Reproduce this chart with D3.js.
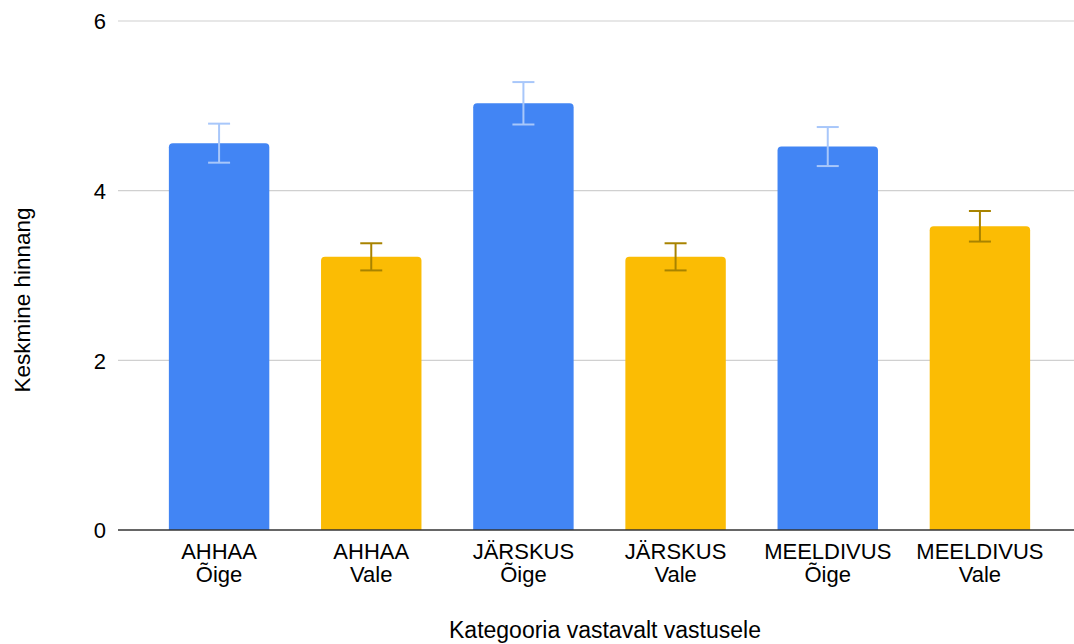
<!DOCTYPE html>
<html>
<head>
<meta charset="utf-8">
<script src="https://cdn.jsdelivr.net/npm/d3@7/dist/d3.min.js"></script>
<style>
  html, body { margin: 0; padding: 0; background: #fff; }
  svg { display: block; font-family: "Liberation Sans", Arial, sans-serif; }
</style>
</head>
<body>
<svg id="chart" width="1074" height="644"></svg>
<script>
// ---- data ----
const categories = ["AHHAA Õige", "AHHAA Vale", "JÄRSKUS Õige", "JÄRSKUS Vale", "MEELDIVUS Õige", "MEELDIVUS Vale"];
const categoryLines = [["AHHAA", "Õige"], ["AHHAA", "Vale"], ["JÄRSKUS", "Õige"], ["JÄRSKUS", "Vale"], ["MEELDIVUS", "Õige"], ["MEELDIVUS", "Vale"]];
const means = [4.56, 3.22, 5.03, 3.22, 4.52, 3.58];
const errors = [0.23, 0.16, 0.25, 0.16, 0.23, 0.18];
const answerType = ["Õige", "Vale", "Õige", "Vale", "Õige", "Vale"];
const yTicks = [0, 2, 4, 6];
const xTitle = "Kategooria vastavalt vastusele";
const yTitle = "Keskmine hinnang";

// ---- styles ----
const barColor = { "Õige": "#4285f4", "Vale": "#fbbc04" };
const errColor = { "Õige": "#a8c7fa", "Vale": "#a88300" };
const fs = 22;

const svg = d3.select("#chart");
const plotLeft = 118, plotRight = 1074, plotTop = 21, plotBottom = 530;

const x = d3.scaleBand().domain(categories).range([143, 1056]).paddingInner(0.34).paddingOuter(0.17);
const y = d3.scaleLinear().domain([0, 6]).range([plotBottom, plotTop]);

// gridlines
svg.append("g").selectAll("line").data(yTicks.filter(d => d !== 0)).join("line")
  .attr("x1", plotLeft).attr("x2", plotRight)
  .attr("y1", d => y(d)).attr("y2", d => y(d))
  .attr("stroke", "#d0d0d0").attr("stroke-width", 1.2);

// y tick labels
const yAxis = d3.axisLeft(y).tickValues(yTicks).tickSize(0).tickPadding(12).tickFormat(d3.format("d"));
const ya = svg.append("g").attr("transform", `translate(${plotLeft},0)`).call(yAxis);
ya.select(".domain").remove();
ya.selectAll("text").attr("font-size", 22).attr("fill", "#000").attr("font-family", "Liberation Sans, Arial, sans-serif").attr("dy", "0.35em");

// bars with rounded top corners
const r = 4;
function barPath(x0, w, yTop, yBot) {
  return `M${x0},${yBot}V${yTop + r}Q${x0},${yTop} ${x0 + r},${yTop}H${x0 + w - r}Q${x0 + w},${yTop} ${x0 + w},${yTop + r}V${yBot}Z`;
}
svg.append("g").selectAll("path").data(categories).join("path")
  .attr("d", (c, i) => barPath(x(c), x.bandwidth(), y(means[i]), y(0)))
  .attr("fill", (c, i) => barColor[answerType[i]]);

// baseline
svg.append("line").attr("x1", plotLeft).attr("x2", plotRight)
  .attr("y1", y(0)).attr("y2", y(0)).attr("stroke", "#333").attr("stroke-width", 1.5);

// error bars
const cap = 11;
const eg = svg.append("g").selectAll("g").data(categories).join("g")
  .attr("stroke", (c, i) => errColor[answerType[i]]).attr("stroke-width", 2);
eg.append("line")
  .attr("x1", c => x(c) + x.bandwidth() / 2).attr("x2", c => x(c) + x.bandwidth() / 2)
  .attr("y1", (c, i) => y(means[i] + errors[i])).attr("y2", (c, i) => y(means[i] - errors[i]));
eg.append("line")
  .attr("x1", c => x(c) + x.bandwidth() / 2 - cap).attr("x2", c => x(c) + x.bandwidth() / 2 + cap)
  .attr("y1", (c, i) => y(means[i] + errors[i])).attr("y2", (c, i) => y(means[i] + errors[i]));
eg.append("line")
  .attr("x1", c => x(c) + x.bandwidth() / 2 - cap).attr("x2", c => x(c) + x.bandwidth() / 2 + cap)
  .attr("y1", (c, i) => y(means[i] - errors[i])).attr("y2", (c, i) => y(means[i] - errors[i]));

// x category labels
const xl = svg.append("g").selectAll("text").data(categories).join("text")
  .attr("x", c => x(c) + x.bandwidth() / 2)
  .attr("y", 559)
  .attr("text-anchor", "middle").attr("font-size", fs).attr("fill", "#000");
xl.each(function(c, i) {
  const t = d3.select(this);
  categoryLines[i].forEach((ln, j) => {
    t.append("tspan").attr("x", x(c) + x.bandwidth() / 2).attr("dy", j === 0 ? 0 : 23).text(ln);
  });
});

// axis titles
svg.append("text").attr("x", 605).attr("y", 638).attr("text-anchor", "middle")
  .attr("font-size", 23).attr("fill", "#000").text(xTitle);
svg.append("text").attr("transform", "translate(30,300) rotate(-90)").attr("text-anchor", "middle")
  .attr("font-size", 22.5).attr("fill", "#000").text(yTitle);
</script>
</body>
</html>
